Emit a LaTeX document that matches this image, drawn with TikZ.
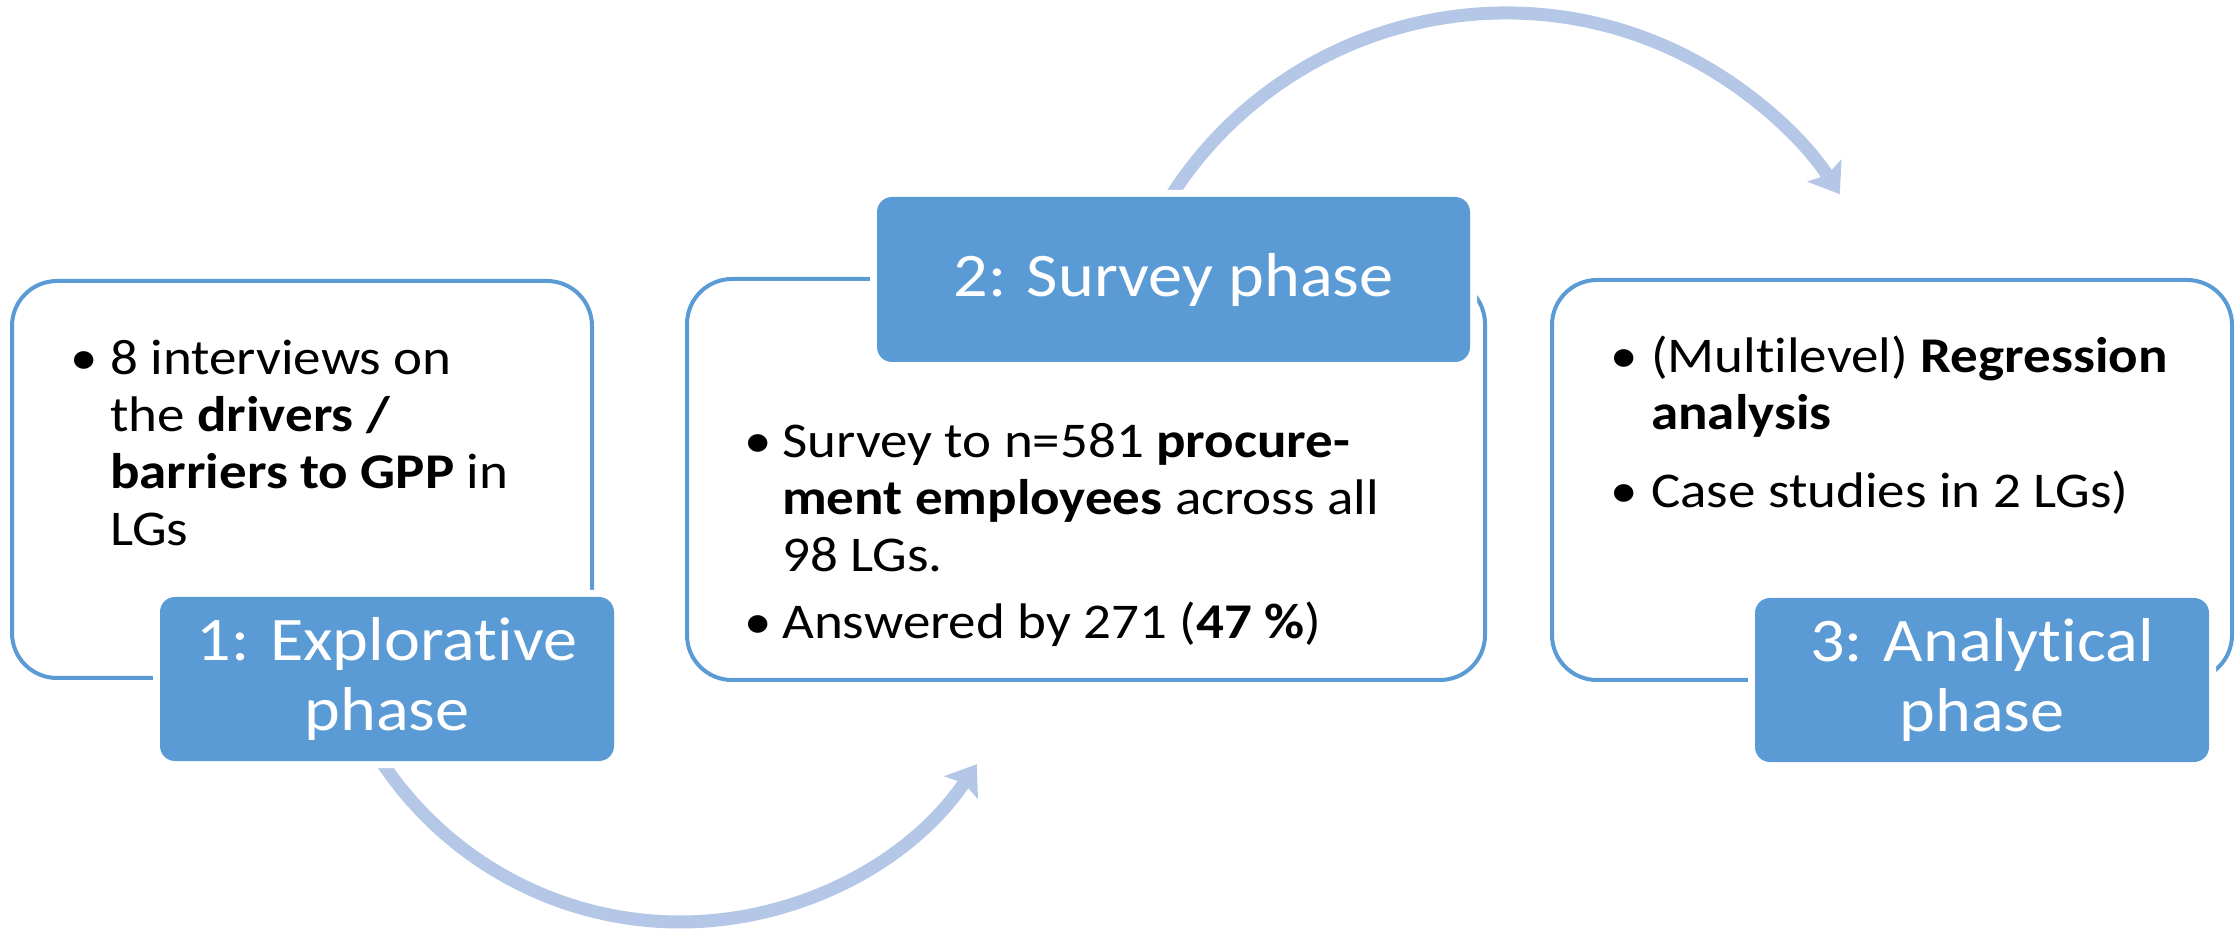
\documentclass[tikz,border=0pt]{standalone}
\usepackage{fontspec}
\setmainfont{Carlito}[FakeStretch=1.1, Ligatures=NoCommon]
\usetikzlibrary{arrows.meta,calc}
\definecolor{phaseblue}{HTML}{5B9BD5}
\definecolor{arcblue}{HTML}{B4C7E7}
\begin{document}
\begin{tikzpicture}[x=1pt,y=1pt,
  panel/.style={draw=phaseblue, line width=4pt, rounded corners=45pt, inner sep=0pt},
  phaselabel/.style={fill=phaseblue, text=white, rounded corners=15pt, inner sep=0pt,
    align=center, font=\fontsize{62}{70}\selectfont,
    preaction={draw=white, line width=14pt}},
  bodytext/.style={anchor=base west, inner sep=0pt, font=\fontsize{50}{57}\selectfont},
  flow/.style={draw=arcblue, line width=13pt, -{Stealth[length=28pt,width=40pt,inset=5pt]}}
]
\useasboundingbox (0,0) rectangle (2239,930);

% outlined phase panels
\node[panel, minimum width=580pt, minimum height=397pt] (box1) at (302,450.5) {};
\node[panel, minimum width=798pt, minimum height=401pt] (box2) at (1086,450.5) {};
\node[panel, minimum width=680pt, minimum height=400pt] (box3) at (1892,450) {};

% label anchors for the curved flow arrows
\coordinate (lab1c) at (387,251);
\coordinate (lab2c) at (1173.5,650.5);

% curved arrows between the phases
\coordinate (a1s) at ($(lab1c)+(680-387,366-251)+(212:358)$);
\draw[flow] (a1s) arc[start angle=212, end angle=326, radius=358];
\coordinate (a2s) at ($(lab2c)+(1506-1173.5,519-650.5)+(150:398)$);
\draw[flow] (a2s) arc[start angle=150, end angle=33, radius=398];

% filled phase labels
\node[phaselabel, minimum width=454pt, minimum height=164pt] (lab1) at (lab1c) {1: Explorative\\phase};
\node[phaselabel, minimum width=593pt, minimum height=165pt] (lab2) at (lab2c) {2: Survey phase};
\node[phaselabel, minimum width=454pt, minimum height=164pt] (lab3) at (1982,250) {3: Analytical\\phase};

% panel 1 text
\node[bodytext] (b11) at (70,555) {•};
\node[bodytext] (t11) at (110,555) {\vtop{\hbox{8 interviews on}\hbox{the \textbf{drivers /}}\hbox{\textbf{barriers to GPP} in}\hbox{LGs}}};

% panel 2 text
\node[bodytext] (b21) at (744,472) {•};
\node[bodytext] (t21) at (782,472) {\vtop{\hbox{Survey to n=581 \textbf{procure-}}\hbox{\textbf{ment employees} across all}\hbox{98 LGs.}}};
\node[bodytext] (b22) at (744,291) {•};
\node[bodytext] (t22) at (782,291) {Answered by 271 (\textbf{47 \%})};

% panel 3 text
\node[bodytext] (b31) at (1610,557) {•};
\node[bodytext] (t31) at (1651,557) {\vtop{\hbox{(Multilevel) \textbf{Regression}}\hbox{\textbf{analysis}}}};
\node[bodytext] (b32) at (1610,422) {•};
\node[bodytext] (t32) at (1651,422) {Case studies in 2 LGs)};
\end{tikzpicture}
\end{document}
